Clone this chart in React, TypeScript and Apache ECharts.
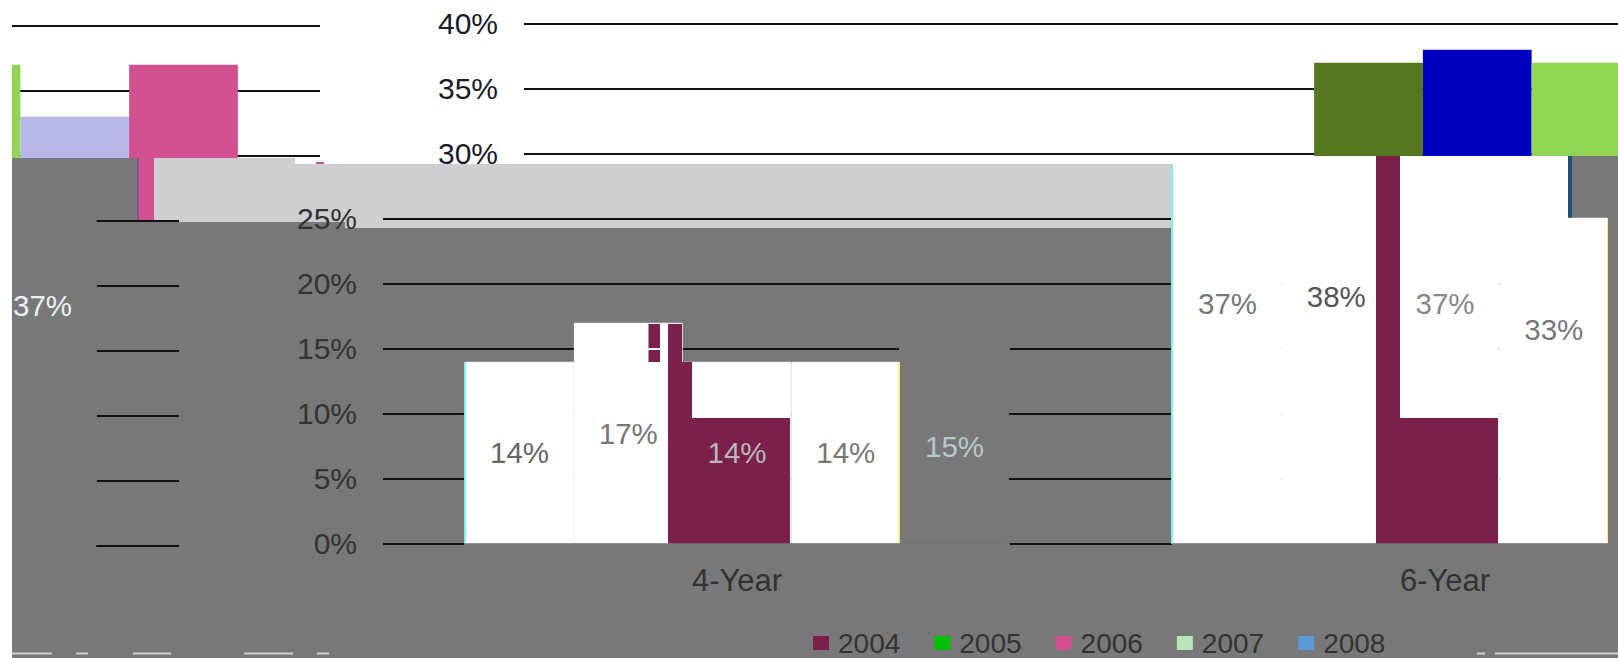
import React, { useEffect, useRef } from "react";
import * as echarts from "echarts";

// ---- data ----
const categories = ["4-Year", "6-Year"];
const seriesNames = ["2004", "2005", "2006", "2007", "2008"];
const values2004 = [14, 37];
const values2005 = [17, 38];
const values2006 = [14, 37];
const values2007 = [14, 33];
const values2008 = [15, 37];
const allValues = [values2004, values2005, values2006, values2007, values2008];

// ---- colours ----
const GREY = "#787878";
const LIGHT_GREY = "#cfcfcf";
const MAROON = "#7b1f4b";
const FONT = "Liberation Sans";
const legendColors = ["#7b1f4b", "#00c000", "#d05090", "#b5e6b5", "#5b9bd5"];
const upperColors = ["#55771f", "#0000c0", "#8fd655", "#b8b8e6", "#d05090"];
const lowerColors = ["#ffffff", "#ffffff", "#ffffff", "#ffffff", GREY];
const labelColors4 = ["#666666", "#777777", "#b8b8b8", "#777777", "#b5c8cc"];
const labelColors6 = ["#777777", "#555555", "#888888", "#777777", "#e8f4f4"];

// ---- the picture is a torn image: the same chart is laid out several times, shifted ----
const WRAP = 1620;
const UPPER_LEFT = 524;
const LOWER_LEFT = 383;
const PLOT_W = 1416;
const PX_PER_PCT = 13;
const ZERO_Y = 543.8;
const yOf = (v: number) => ZERO_Y - v * PX_PER_PCT;

const rect = (x: number, y: number, w: number, h: number, fill: string, z = 3) => ({
  type: "rect",
  z,
  silent: true,
  shape: { x, y, width: w, height: h },
  style: { fill },
});

// Patches of the damaged image, below the lower layer of the chart
const backPatches = [
  rect(1172, 156, 446, 388, "#ffffff"),
  rect(12, 158, 125, 500, GREY),
  rect(137, 158, 2, 64, "#8a4f90"),
  rect(139, 158, 15, 64, "#d05090"),
  rect(154, 158, 141, 64, LIGHT_GREY),
  rect(295, 164, 877, 64, LIGHT_GREY),
  rect(137, 222, 208, 436, GREY),
  rect(345, 228, 827, 430, GREY),
  rect(1572, 156, 46, 62, GREY),
  rect(1568, 156, 4, 62, "#1f4e79"),
  rect(316, 162, 8, 2, "#d05090"),
];

// Patches above the lower layer
const frontPatches = [
  rect(1173, 217.8, 434, 3, "#ffffff", 7),
  rect(899, 346.5, 111, 4, GREY, 7),
  rect(12, 218, 84, 6, GREY, 7),
  rect(648.5, 324, 11.5, 38, MAROON, 7),
  rect(668, 324, 14, 38, MAROON, 7),
  rect(668, 362, 24, 56, MAROON, 7),
  rect(668, 418, 122, 126, MAROON, 7),
  rect(648.5, 348, 11.5, 2, "#ffffff", 7),
  rect(1376, 156, 24, 388, MAROON, 7),
  rect(1400, 418, 98, 126, MAROON, 7),
  rect(464, 362, 2, 182, "#7ff0f0", 7),
  rect(898, 362, 2, 182, "#f4f080", 7),
  rect(1171, 164, 2, 380, "#7ff0f0", 7),
  rect(1607, 218, 2, 326, "#f4f080", 7),
  rect(0, 544.5, 1618, 114, GREY, 5),
  rect(464, 543.3, 546, 3, GREY, 7),
  rect(1172, 543.3, 446, 3, GREY, 7),
  rect(12, 543.3, 84, 6, GREY, 7),
  rect(1608, 218, 10, 326, GREY, 7),
  rect(0, 0, 12, 658, "#ffffff", 9),
  rect(12, 652.5, 40, 2, "#d0d0d0", 9),
  rect(76, 652.5, 12, 2, "#d0d0d0", 9),
  rect(133, 652.5, 38, 2, "#d0d0d0", 9),
  rect(244, 652.5, 49, 2, "#d0d0d0", 9),
  rect(317, 652.5, 12, 2, "#d0d0d0", 9),
  rect(1477, 652.5, 8, 2, "#d0d0d0", 9),
  rect(1495, 652.5, 123, 2, "#d0d0d0", 9),
];

const makeGrid = (left: number, top: number, height: number) => ({
  left,
  top,
  width: PLOT_W,
  height,
  containLabel: false,
  outerBoundsMode: "none",
});

const hiddenX = (gridIndex: number) => ({
  type: "category",
  gridIndex,
  data: categories,
  show: false,
});

const App = () => {
  const ref = useRef<HTMLDivElement>(null);

  useEffect(() => {
    document.body.style.margin = "0";
    const chart = echarts.init(ref.current!, null, { renderer: "svg" });

    const grid = [
      makeGrid(UPPER_LEFT, yOf(40), 15 * PX_PER_PCT),
      makeGrid(UPPER_LEFT - WRAP, yOf(40) + 2, 15 * PX_PER_PCT),
      makeGrid(LOWER_LEFT, yOf(25), 25 * PX_PER_PCT),
      makeGrid(LOWER_LEFT - WRAP, yOf(25) + 2, 25 * PX_PER_PCT),
      makeGrid(LOWER_LEFT, yOf(40), 40 * PX_PER_PCT),
      makeGrid(LOWER_LEFT - WRAP, yOf(40) + 2, 40 * PX_PER_PCT),
    ];

    const upperY = (gridIndex: number, showLabels: boolean) => ({
      type: "value",
      gridIndex,
      min: 25,
      max: 40,
      interval: 5,
      z: 1,
      axisLine: { show: false },
      axisTick: { show: false },
      splitLine: { showMinLine: false, lineStyle: { color: "#111111", width: 2 } },
      axisLabel: {
        show: showLabels,
        showMinLabel: false,
        formatter: "{value}%",
        fontFamily: FONT,
        fontSize: 30,
        color: "#1a1a2a",
        margin: 26,
      },
    });
    const lowerY = (gridIndex: number, showLabels: boolean) => ({
      type: "value",
      gridIndex,
      min: 0,
      max: 25,
      interval: 5,
      z: 5,
      axisLine: { show: false },
      axisTick: { show: false },
      splitLine: { lineStyle: { color: "#111111", width: 2 } },
      axisLabel: {
        show: showLabels,
        formatter: "{value}%",
        fontFamily: FONT,
        fontSize: 30,
        color: "#333333",
        margin: 26,
      },
    });
    const labelY = (gridIndex: number) => ({
      type: "value",
      gridIndex,
      min: 0,
      max: 40,
      interval: 5,
      show: false,
    });

    const xAxis = [
      hiddenX(0),
      hiddenX(1),
      {
        type: "category",
        gridIndex: 2,
        data: categories,
        z: 6,
        axisLine: { show: false },
        axisTick: { show: false },
        axisLabel: {
          interval: 0,
          fontFamily: FONT,
          fontSize: 31,
          color: "#333333",
          margin: 21,
        },
      },
      hiddenX(3),
      hiddenX(4),
      hiddenX(5),
    ];

    const barSeries = (gi: number, z: number, colors: string[]) =>
      seriesNames.map((name, i) => ({
        name,
        type: "bar",
        xAxisIndex: gi,
        yAxisIndex: gi,
        z,
        barGap: "0%",
        barCategoryGap: "23.2%",
        silent: true,
        itemStyle:
          gi >= 2
            ? { color: colors[i], borderColor: colors[i], borderWidth: 1 }
            : { color: colors[i] },
        data: allValues[i],
      }));

    // Each tear holds only part of the labels: the last 6-Year bar falls in the wrapped piece.
    const labelSeries = (gi: number, visible: (i: number, c: number) => boolean) =>
      seriesNames.map((name, i) => ({
        name,
        type: "bar",
        xAxisIndex: gi,
        yAxisIndex: gi,
        z: 8,
        barGap: "0%",
        barCategoryGap: "23.2%",
        silent: true,
        itemStyle: { color: "rgba(0,0,0,0)" },
        data: allValues[i].map((value, c) => ({
          value,
          label: {
            show: visible(i, c),
            position: "inside",
            formatter: "{c}%",
            fontFamily: FONT,
            fontSize: 29.5,
            color: (c === 0 ? labelColors4 : labelColors6)[i],
          },
        })),
      }));

    chart.setOption({
      animation: false,
      backgroundColor: "#ffffff",
      grid,
      xAxis,
      yAxis: [
        upperY(0, true),
        upperY(1, false),
        lowerY(2, true),
        lowerY(3, false),
        labelY(4),
        labelY(5),
      ],
      legend: {
        left: 813,
        top: 629,
        padding: 0,
        itemWidth: 16,
        itemHeight: 14,
        itemGap: 34,
        z: 9,
        selectedMode: false,
        textStyle: {
          fontFamily: FONT,
          fontSize: 28,
          lineHeight: 24,
          color: "#333333",
          padding: [0, 0, 0, 4],
        },
        data: seriesNames.map((name, i) => ({
          name,
          icon: "rect",
          itemStyle: { color: legendColors[i] },
        })),
      },
      graphic: { elements: [...backPatches, ...frontPatches] },
      series: [
        ...barSeries(0, 1, upperColors),
        ...barSeries(1, 1, upperColors),
        ...barSeries(2, 6, lowerColors),
        ...barSeries(3, 6, lowerColors),
        ...labelSeries(4, (i, c) => !(i === 4 && c === 1)),
        ...labelSeries(5, (i, c) => i === 4 && c === 1),
      ],
    });

    return () => chart.dispose();
  }, []);

  return <div ref={ref} style={{ width: 1618, height: 658 }} />;
};

export default App;
